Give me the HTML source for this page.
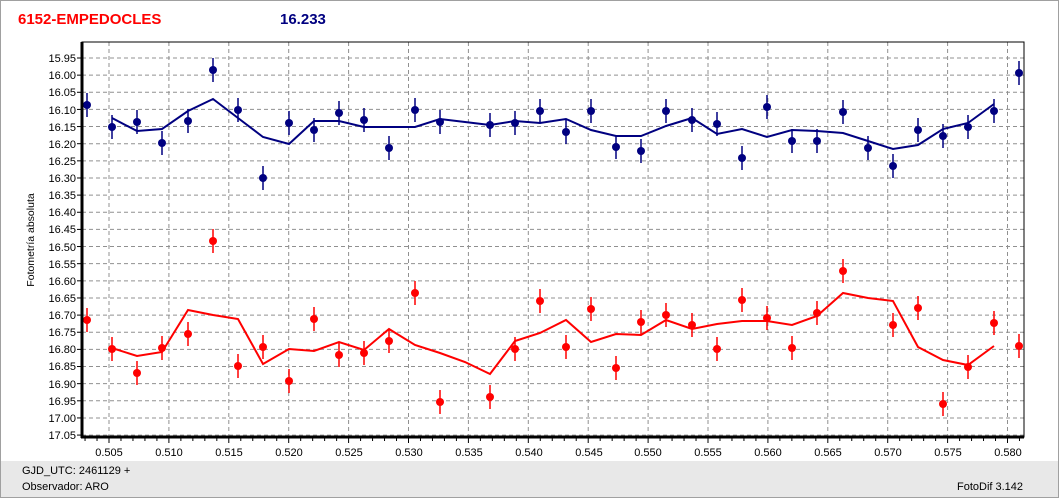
<!DOCTYPE html>
<html><head><meta charset="utf-8"><style>
html,body{margin:0;padding:0;background:#fff;}
body{width:1060px;height:499px;overflow:hidden;position:relative;font-family:"Liberation Sans",sans-serif;}
</style></head><body>
<svg id="s" width="1060" height="499" xmlns="http://www.w3.org/2000/svg" style="position:absolute;left:0;top:0">
<rect x="0.5" y="0.5" width="1058" height="497" fill="#fff" stroke="#a0a0a0"/>
<rect x="1" y="461" width="1057" height="36" fill="#e8e8e8"/>
<text x="18" y="24" fill="#ff0000" font-size="15" font-weight="bold">6152-EMPEDOCLES</text>
<text x="280" y="24" fill="#000080" font-size="15" font-weight="bold">16.233</text>
<g font-size="11" fill="#000">
<text x="22" y="474">GJD_UTC: 2461129 +</text>
<text x="22" y="490">Observador: ARO</text>
<text x="957" y="490">FotoDif 3.142</text>
</g>
<text transform="translate(34,240) rotate(-90)" font-size="10.5" text-anchor="middle">Fotometría absoluta</text>
<g id="grid" stroke="#909090" stroke-dasharray="4,3" stroke-width="1"></g>
<g id="ticks" stroke="#000" stroke-width="1"></g>
<g id="yl" font-size="11" text-anchor="end">
<text x="76" y="62">15.95</text><text x="76" y="79">16.00</text><text x="76" y="96">16.05</text><text x="76" y="114">16.10</text><text x="76" y="131">16.15</text><text x="76" y="148">16.20</text><text x="76" y="165">16.25</text><text x="76" y="182">16.30</text><text x="76" y="199">16.35</text><text x="76" y="216">16.40</text><text x="76" y="233">16.45</text><text x="76" y="251">16.50</text><text x="76" y="268">16.55</text><text x="76" y="285">16.60</text><text x="76" y="302">16.65</text><text x="76" y="319">16.70</text><text x="76" y="336">16.75</text><text x="76" y="353">16.80</text><text x="76" y="370">16.85</text><text x="76" y="388">16.90</text><text x="76" y="405">16.95</text><text x="76" y="422">17.00</text><text x="76" y="439">17.05</text>
</g>
<g font-size="11" text-anchor="middle">
<text x="109" y="456">0.505</text><text x="169" y="456">0.510</text><text x="229" y="456">0.515</text><text x="289" y="456">0.520</text><text x="349" y="456">0.525</text><text x="409" y="456">0.530</text><text x="469" y="456">0.535</text><text x="529" y="456">0.540</text><text x="589" y="456">0.545</text><text x="648" y="456">0.550</text><text x="708" y="456">0.555</text><text x="768" y="456">0.560</text><text x="828" y="456">0.565</text><text x="888" y="456">0.570</text><text x="948" y="456">0.575</text><text x="1008" y="456">0.580</text>
</g>
<g id="data"></g>
<rect x="82" y="42" width="942" height="395" fill="none" stroke="#000" stroke-width="1"/>
<line x1="82" y1="42" x2="82" y2="438" stroke="#000" stroke-width="3"/>
<line x1="81" y1="437" x2="1024" y2="437" stroke="#000" stroke-width="3"/>
</svg>
<script>
var NS="http://www.w3.org/2000/svg";
function el(p,t,a){var e=document.createElementNS(NS,t);for(var k in a)e.setAttribute(k,a[k]);p.appendChild(e);return e;}
var g=document.getElementById('grid'),tk=document.getElementById('ticks'),d=document.getElementById('data');
for(var i=0;i<16;i++){var x=109+i*59.9;el(g,'line',{x1:x,y1:42,x2:x,y2:437});}
for(var i=0;i<23;i++){var y=58+i*17.14;el(g,'line',{x1:82,y1:y,x2:1024,y2:y});el(tk,'line',{x1:77,y1:y,x2:82,y2:y});}
for(var i=-2;i<79;i++){var x=109+i*11.98;if(x<82||x>1024)continue;el(tk,'line',{x1:x,y1:437,x2:x,y2:(i%5==0?443:441)});}
function series(pts,line,c){
 el(d,'polyline',{points:line.map(function(p){return p.join(',')}).join(' '),fill:'none',stroke:c,'stroke-width':2});
 pts.forEach(function(p){el(d,'line',{x1:p[0],y1:p[1]-12,x2:p[0],y2:p[1]+12,stroke:c,'stroke-width':1.5});el(d,'circle',{cx:p[0],cy:p[1],r:4,fill:c});});
}
var xs=[87,112,137,162,188,213,238,263,289,314,339,364,389,415,440,465,490,515,540,566,591,616,641,666,692,717,742,767,792,817,843,868,893,918,943,968,994,1019];
var bp=[[87,105],[112,127],[137,122],[162,143],[188,121],[213,70],[238,110],[263,178],[289,123],[314,130],[339,113],[364,120],[389,148],[415,110],[440,122],[490,125],[515,123],[540,111],[566,132],[591,111],[616,147],[641,151],[666,111],[692,120],[717,124],[742,158],[767,107],[792,141],[817,141],[843,112],[868,148],[893,166],[918,130],[943,136],[968,127],[994,111],[1019,73]];
var bl=[[112,118],[137,131],[162,129],[188,111],[213,99],[238,118],[263,137],[289,144],[314,121],[339,121],[364,127],[389,127],[415,127],[440,119],[465,122],[490,125],[515,121],[540,123],[566,119],[591,130],[616,136],[641,136],[666,126],[692,118],[717,134],[742,129],[767,137],[792,130],[817,131],[843,133],[868,141],[893,149],[918,145],[943,129],[968,123],[994,104]];
var rp=[[87,320],[112,349],[137,373],[162,348],[188,334],[213,241],[238,366],[263,347],[289,381],[314,319],[339,355],[364,353],[389,341],[415,293],[440,402],[490,397],[515,349],[540,301],[566,347],[591,309],[616,368],[641,322],[666,315],[692,325],[717,349],[742,300],[767,318],[792,348],[817,313],[843,271],[893,325],[918,308],[943,404],[968,367],[994,323],[1019,346]];
var rl=[[112,348],[137,356],[162,352],[188,310],[213,315],[238,319],[263,364],[289,349],[314,351],[339,342],[364,350],[389,329],[415,345],[440,353],[465,362],[490,374],[515,341],[540,333],[566,320],[591,342],[616,334],[641,335],[666,320],[692,329],[717,324],[742,321],[767,321],[792,325],[817,316],[843,293],[868,298],[893,301],[918,347],[943,360],[968,365],[994,346]];
series(bp,bl,'#000080');series(rp,rl,'#ff0000');
</script>
</body></html>
